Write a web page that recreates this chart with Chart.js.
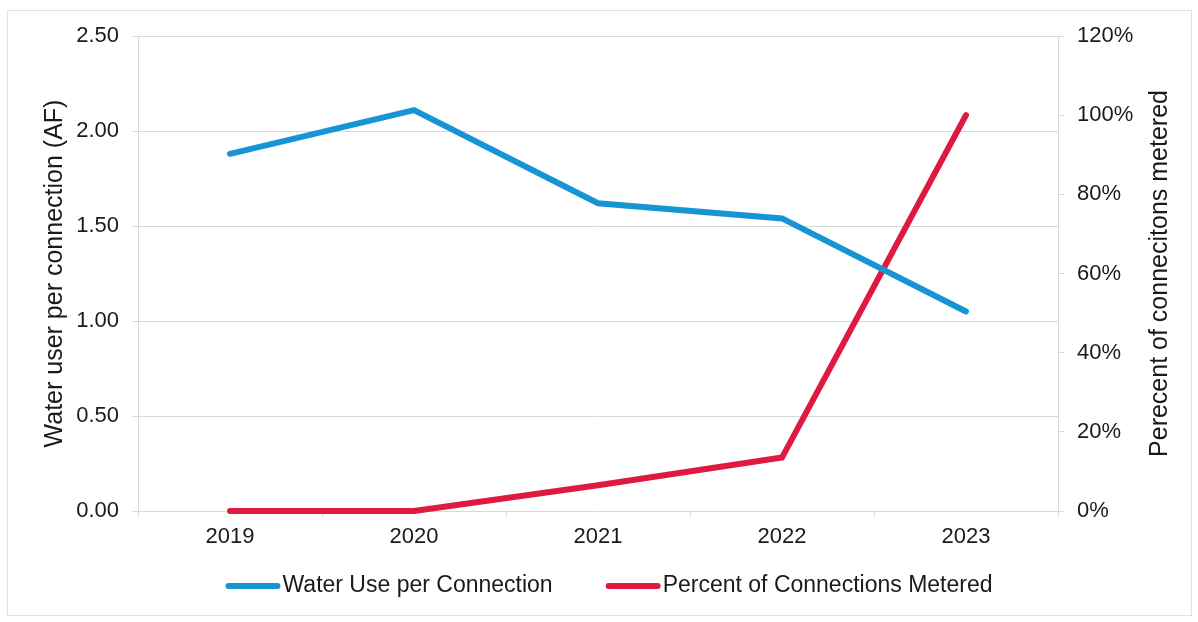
<!DOCTYPE html>
<html>
<head>
<meta charset="utf-8">
<title>Water use per connection</title>
<script src="https://cdn.jsdelivr.net/npm/chart.js@4.4.1/dist/chart.umd.min.js"></script>
<style>
  body { margin: 0; background: #ffffff; }
  canvas { display: block; }
</style>
</head>
<body>
<canvas id="graficaAgua" width="1198" height="622"></canvas>
<script>

// datos por año
var anios = ['2019', '2020', '2021', '2022', '2023'];
var usoPorConexion = [1.88, 2.11, 1.62, 1.54, 1.05];
var porcentajeMedido = [0, 0, 6.5, 13.5, 100];

var nombreUso = 'Water Use per Connection';
var nombreMedido = 'Percent of Connections Metered';
var tituloIzq = 'Water user per connection (AF)';
var tituloDer = 'Perecent of connecitons metered';

var azul = '#1794d4';
var rojo = '#df1a40';
var gris = '#d9d9d9';
var fuente = "'Liberation Sans', Arial, sans-serif";

// marco gris alrededor de toda la grafica
var marco = {
    id: 'marco',
    beforeDraw: function (chart) {
        var ctx = chart.ctx;
        ctx.save();
        ctx.fillStyle = '#ffffff';
        ctx.fillRect(0, 0, chart.width, chart.height);
        ctx.strokeStyle = '#e2e2e2';
        ctx.lineWidth = 1;
        ctx.strokeRect(7.5, 10.5, 1184, 605);
        ctx.restore();
    }
};

// titulo del eje derecho (se lee de abajo hacia arriba) y leyenda de abajo
var extras = {
    id: 'extras',
    afterDraw: function (chart) {
        var ctx = chart.ctx;
        var area = chart.chartArea;
        ctx.save();

        ctx.font = '25px ' + fuente;
        ctx.fillStyle = '#1a1a1a';
        ctx.textAlign = 'center';
        ctx.textBaseline = 'alphabetic';
        ctx.translate(1167, (area.top + area.bottom) / 2);
        ctx.rotate(-Math.PI / 2);
        ctx.fillText(tituloDer, 0, 0);
        ctx.setTransform(1, 0, 0, 1, 0, 0);

        ctx.font = '23px ' + fuente;
        ctx.textAlign = 'left';
        ctx.textBaseline = 'middle';
        var largo = 55;
        var separacion = 53;
        var items = chart.data.datasets.map(function (ds) {
            return { texto: ds.label, color: ds.borderColor, ancho: ctx.measureText(ds.label).width };
        });
        var total = 0;
        items.forEach(function (it, i) {
            total += largo + 2 + it.ancho + (i > 0 ? separacion : 0);
        });
        var x = (area.left + area.right) / 2 + 11 - total / 2;
        var y = 586;
        items.forEach(function (it) {
            ctx.strokeStyle = it.color;
            ctx.lineWidth = 6;
            ctx.lineCap = 'round';
            ctx.beginPath();
            ctx.moveTo(x + 3, y);
            ctx.lineTo(x + largo - 3, y);
            ctx.stroke();
            ctx.fillStyle = '#1a1a1a';
            ctx.fillText(it.texto, x + largo + 2, y);
            x += largo + 2 + it.ancho + separacion;
        });
        ctx.restore();
    }
};

var ctx = document.getElementById('graficaAgua').getContext('2d');
var grafica = new Chart(ctx, {
    type: 'line',
    data: {
        labels: anios,
        datasets: [{
            label: nombreUso,
            data: usoPorConexion,
            yAxisID: 'yUso',
            borderColor: azul,
            backgroundColor: azul,
            borderWidth: 6,
            borderCapStyle: 'round',
            pointRadius: 0,
            tension: 0,
            clip: false
        }, {
            label: nombreMedido,
            data: porcentajeMedido,
            yAxisID: 'yMedido',
            borderColor: rojo,
            backgroundColor: rojo,
            borderWidth: 6,
            borderCapStyle: 'round',
            pointRadius: 0,
            tension: 0,
            clip: false
        }]
    },
    options: {
        responsive: false,
        animation: false,
        layout: { padding: { top: 36, left: 0, right: 0, bottom: 0 } },
        plugins: {
            legend: { display: false },
            tooltip: { enabled: false }
        },
        scales: {
            x: {
                offset: true,
                grid: { offset: true, drawOnChartArea: false, drawTicks: true, tickLength: 6, color: gris },
                border: { display: true, color: gris },
                ticks: { color: '#1a1a1a', padding: 7, font: { family: fuente, size: 22 } },
                afterFit: function (scale) { scale.height = 111; }
            },
            yUso: {
                position: 'left',
                min: 0,
                max: 2.5,
                grid: { color: gris, tickLength: 6 },
                border: { display: true, color: gris },
                ticks: {
                    stepSize: 0.5,
                    padding: 13,
                    color: '#1a1a1a',
                    font: { family: fuente, size: 22 },
                    callback: function (v) { return v.toFixed(2); }
                },
                title: {
                    display: true,
                    text: tituloIzq,
                    color: '#1a1a1a',
                    font: { family: fuente, size: 25 },
                    padding: { top: 40, bottom: 0 }
                },
                afterFit: function (scale) { scale.width = 138; }
            },
            yMedido: {
                position: 'right',
                min: 0,
                max: 120,
                grid: { drawOnChartArea: false, tickLength: 6, color: gris },
                border: { display: true, color: gris },
                ticks: {
                    stepSize: 20,
                    padding: 13,
                    color: '#1a1a1a',
                    font: { family: fuente, size: 22 },
                    callback: function (v) { return v + '%'; }
                },
                afterFit: function (scale) { scale.width = 140; }
            }
        }
    },
    plugins: [marco, extras]
});
</script>
</body>
</html>
